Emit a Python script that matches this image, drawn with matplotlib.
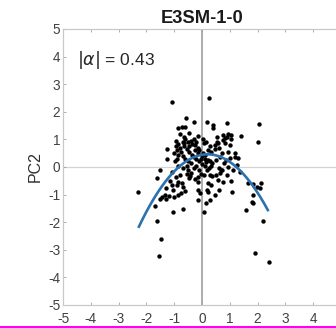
import matplotlib
matplotlib.use("Agg")
import matplotlib.pyplot as plt
import numpy as np
from matplotlib.patches import Rectangle

title = "E3SM-1-0"
ylabel = "PC2"
alpha_text = r"$|\alpha|$ = 0.43"
ticks = [-5, -4, -3, -2, -1, 0, 1, 2, 3, 4, 5]

pc_x = [-1.09, 0.25, -0.59, -0.30, 0.17, 0.41, 0.41, 0.89, 2.06, -0.87, -0.73, -0.79, -0.15, 1.39, 1.04,
        0.95, 0.89, 0.83, -0.65, 0.07, 2.00, -1.25, -1.25, 0.53, 0.59, 0.47, 0.77, 0.83, 1.01,
        0.71, 0.95, 1.19, 1.19, 1.01, 1.31, 0.95, 1.25, 1.37, 1.13,
        -1.51, -1.09, -1.63, -2.31,
        -1.09, -0.91, -0.85, -0.73, -0.67,
        -1.33, -1.20, -1.45, -1.50, -1.30, -1.00, -0.85, -0.75, -0.62,
        -1.69, -1.03, -0.69, -1.61, -1.49, -1.55,
        -0.43, -0.38, -0.48,
        -0.13, -0.15, -0.07, 0.07,
        0.07, 0.28, 0.37, 0.52, 0.65, 0.72,
        0.23, 0.32, 0.17, 0.23, 0.56,
        1.09, 1.67, 1.82, 1.97, 2.12, 2.09,
        1.82, 1.79, 1.85, 1.58, 2.18, 1.91, 2.42,
        0.10, 0.20, 0.30, 0.15, 0.35, 0.12, 0.25, 0.18, 0.32, 0.60, 0.70, 0.80,
        -0.15, 0.05, -0.10, 0.00, 0.10, 0.22, 0.34, -0.05,
        -0.95, -0.85, -0.80, -0.90, -0.75, -0.85, -0.70, -0.90, -0.60, -0.50,
        -0.55, -0.45, -0.35, -0.25, -0.40, -0.30, -0.20, -0.50, -0.60,
        -0.45, -0.35, -0.25, -0.15, -0.30, -0.20, -0.10, -0.40, -0.55,
        -0.65, -0.70, -0.95, -1.00, -0.98, -0.85, -0.70, -0.50,
        -0.30, -0.20, -0.10, 0.00, -0.05, -0.15, -0.25, -0.55, -0.80, -1.15, -1.30, -1.05, -0.95,
        -0.60, -0.45, -0.65,
        0.05, 0.15, 0.30, 0.45, 0.60, 0.55, 0.75, 1.05, 0.65, 0.50, 0.85, 0.90, 1.05, 0.75, 0.45, 0.60, 0.30, -0.15, 0.15]
pc_y = [2.34, 2.50, 1.77, 1.64, 1.62, 1.52, 1.40, 1.58, 1.55, 1.40, 1.44, 1.20, 1.12, 1.12, 1.16,
        1.20, 1.10, 1.04, 0.86, 0.86, 0.89, 0.64, 0.28, 0.92, 0.86, 0.80, 0.98, 0.86, 0.80,
        0.50, 0.56, 0.50, 0.37, 0.31, 0.31, 0.01, 0.07, -0.17, -0.11,
        -0.11, -0.17, -0.41, -0.92,
        -0.65, -0.65, -0.53, -0.59, -0.71,
        -1.00, -1.05, -1.10, -1.15, -1.17, -1.08, -1.00, -0.95, -0.88,
        -1.40, -1.64, -1.52, -1.96, -2.61, -3.21,
        -0.33, -0.20, -0.40,
        -0.53, -0.83, -0.95, -1.62,
        -0.30, -0.28, -0.33, -0.30, -0.22, -0.10,
        -0.59, -0.65, -0.83, -0.89, -0.47,
        -0.92, -0.59, -0.62, -0.71, -0.57, -0.77,
        -1.01, -1.26, -1.32, -1.56, -1.96, -3.11, -3.45,
        0.30, 0.25, 0.20, 0.18, 0.15, 0.05, -0.05, -0.10, 0.02, -0.05, -0.10, 0.15,
        0.70, 0.50, 0.60, 0.40, 0.45, 0.60, 0.54, 0.30,
        0.95, 0.85, 0.70, 0.60, 0.55, 0.45, 0.40, 0.30, 0.30, 0.20,
        0.65, 0.75, 0.85, 0.80, 0.95, 1.00, 0.90, 0.90, 1.00,
        0.55, 0.45, 0.60, 0.50, 0.35, 0.30, 0.20, 0.15, 0.05,
        0.75, 0.90, 0.75, 0.50, 0.20, 0.05, -0.05, -0.10,
        -0.05, 0.05, -0.10, 0.10, -0.25, -0.35, -0.45, -0.25, -0.30, -0.50, -0.75, -0.85, -0.35,
        1.45, 1.25, 1.10,
        1.00, 0.90, 0.75, 0.65, 0.70, 1.10, 1.15, 1.00, 0.35, 0.25, 0.25, -0.30, -0.50, -0.55, -1.00, -0.85, -1.20, -1.20, -1.30]

# fitted quadratic: y = a*x^2 + b*x + c
fit_coef = [-0.43, 0.172, 0.443]
fit_xmin, fit_xmax = -2.29, 2.39

fig = plt.figure(figsize=(3.36, 3.28), dpi=100)
ax = fig.add_axes([63/336, 23/328, 278/336, 276/328])

ax.axhline(0, color="#d4d4d4", lw=0.9, zorder=1)
ax.axvline(0, color="#a6a6a6", lw=1.3, zorder=1)

ax.scatter(pc_x, pc_y, s=10, color="black", linewidths=0, zorder=3)
xf = np.linspace(fit_xmin, fit_xmax, 200)
ax.plot(xf, np.polyval(fit_coef, xf), color="#2b72ae", lw=1.9, zorder=4, solid_capstyle="butt")

ax.set_xlim(-5, 5)
ax.set_ylim(-5, 5)
ax.set_xticks(ticks)
ax.set_yticks(ticks)
# the x label "5" falls outside the visible image in the reference
ax.set_xticklabels([str(t) if t < 5 else "" for t in ticks])
ax.set_yticklabels([str(t) for t in ticks])
for s in ax.spines.values():
    s.set_color("#c8c8c8")
    s.set_linewidth(0.9)
ax.tick_params(direction="in", length=2.5, width=0.6, color="#a0a0a0",
               labelsize=9.8, labelcolor="#404040", top=True, right=True, pad=2)
ax.tick_params(axis="x", pad=5.2)
for lab in ax.get_xticklabels() + ax.get_yticklabels():
    lab.set_family("Liberation Sans")

ax.set_title(title, fontsize=13.2, fontweight="bold", family="Liberation Sans", pad=4, color="#1a1a1a")
ax.set_ylabel(ylabel, fontsize=11.5, family="Liberation Sans", color="#303030", labelpad=4)
ax.text(0.052, 0.868, alpha_text, transform=ax.transAxes, fontsize=12.5,
        family="Liberation Sans", color="#262626", va="baseline")

fig.add_artist(Rectangle((0, 0), 1, 2.5/328, transform=fig.transFigure,
                         facecolor="#ff00ff", edgecolor="none"))

fig.savefig("out.png", dpi=100)
